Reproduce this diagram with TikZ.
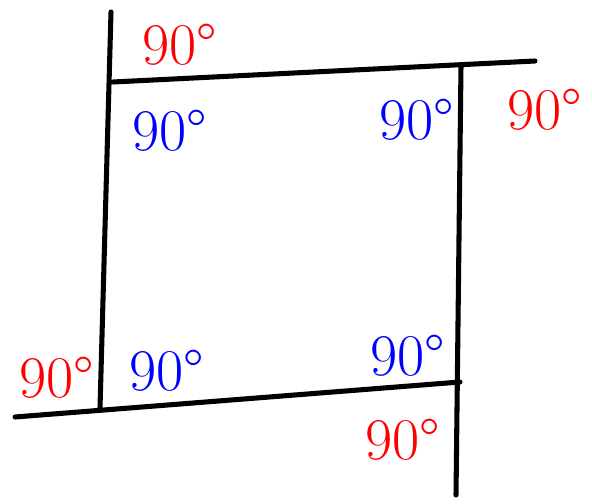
\documentclass[tikz,border=0pt]{standalone}
\usepackage{tikz}
\usetikzlibrary{positioning}

\tikzset{
  side/.style={line width=3.6pt, line cap=round, black},
  angout/.style={red, font=\fontsize{42}{48}\selectfont},
  angin/.style={blue, font=\fontsize{42}{48}\selectfont}
}

\begin{document}
\begin{tikzpicture}[x=0.025cm, y=-0.025cm]
        \useasboundingbox (0,0) rectangle (592,504);

        % Điểm đầu mút các cạnh
        \coordinate (lt) at (111,12);
        \coordinate (lb) at (100,408);
        \coordinate (tl) at (113,82);
        \coordinate (tr) at (535,61);
        \coordinate (rt) at (461,66);
        \coordinate (rb) at (456,495);
        \coordinate (bl) at (15,417);
        \coordinate (br) at (460,382);

        % Các cạnh
        \draw[side] (lt) -- (lb);
        \draw[side] (tl) -- (tr);
        \draw[side] (rt) -- (rb);
        \draw[side] (bl) -- (br);

        % Góc ngoài (đỏ)
        \node[angout] (otop) at (180,45) {90\textdegree};
        \node[angout] (oright) at (545,110) {90\textdegree};
        \node[angout] (oleft) at (57,378) {90\textdegree};
        \node[angout] (obot) at (403,440) {90\textdegree};

        % Góc trong (xanh)
        \node[angin] (itl) at (170,131) {90\textdegree};
        \node[angin] (itr) at (417,120) {90\textdegree};
        \node[angin] (ibl) at (167,371) {90\textdegree};
        \node[angin] (ibr) at (408,356) {90\textdegree};
      \end{tikzpicture}
\end{document}
